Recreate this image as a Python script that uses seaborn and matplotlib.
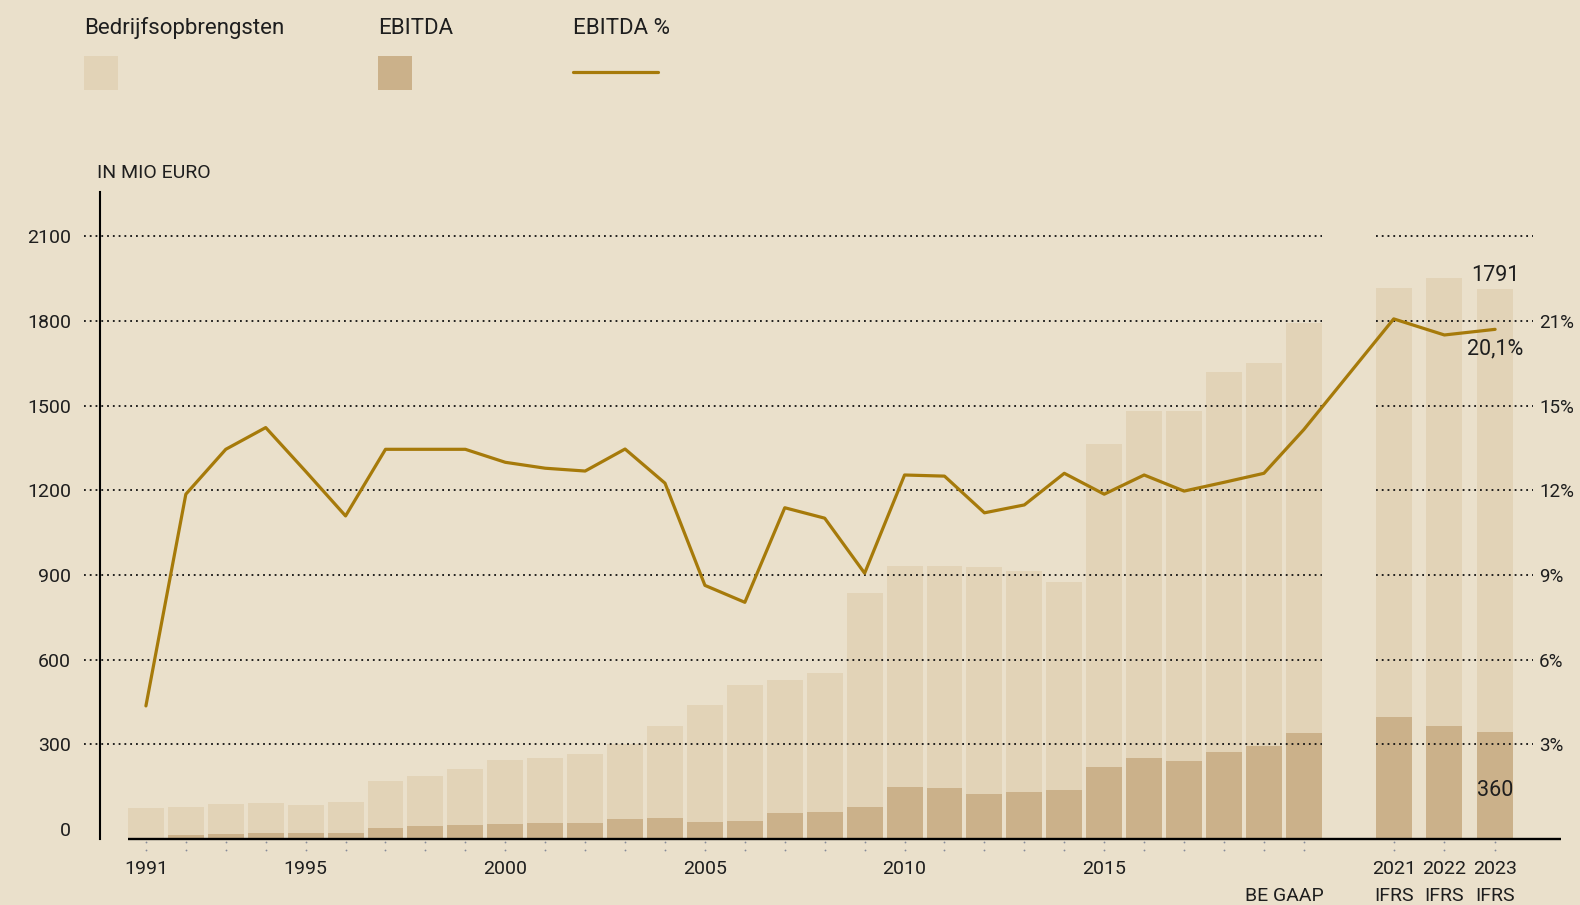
import numpy as np
import pandas as pd
import matplotlib
matplotlib.use("Agg")
import matplotlib.pyplot as plt
import matplotlib.transforms as mtransforms
from matplotlib.patches import Rectangle
from matplotlib.lines import Line2D
import seaborn as sns

# ---------------- data ----------------
years = [1991, 1992, 1993, 1994, 1995, 1996, 1997, 1998, 1999, 2000,
         2001, 2002, 2003, 2004, 2005, 2006, 2007, 2008, 2009, 2010,
         2011, 2012, 2013, 2014, 2015, 2016, 2017, 2018, 2019, 2020,
         2021, 2022, 2023]
# bar heights (mio euro, measured from the bar baseline)
revenue = [109, 112, 123, 126, 119, 130, 204, 222, 247, 279,
           286, 300, 335, 399, 474, 544, 562, 587, 870, 966,
           966, 962, 948, 909, 1398, 1515, 1515, 1653, 1685, 1828,
           1951, 1986, 1947]
ebitda = [0, 13, 17, 20, 20, 20, 38, 45, 49, 52,
          56, 56, 70, 73, 59, 63, 91, 95, 112, 183,
          180, 158, 165, 173, 254, 286, 275, 307, 328, 374,
          431, 399, 378]
ebitda_pct = [4.36, 11.86, 13.45, 14.22, 12.67, 11.09, 13.45, 13.45, 13.45, 12.99,
              12.78, 12.68, 13.46, 12.25, 8.63, 8.03, 11.38, 11.01, 9.06, 12.54,
              12.50, 11.20, 11.48, 12.60, 11.86, 12.54, 11.97, 12.28, 12.60, 14.15,
              18.07, 17.50, 17.70]
ifrs_years = [2021, 2022, 2023]
year_ticks = [1991, 1995, 2000, 2005, 2010, 2015, 2021, 2022, 2023]
left_ticks = [0, 300, 600, 900, 1200, 1500, 1800, 2100]
right_ticks = [3, 6, 9, 12, 15, 18]
right_labels = ["3%", "6%", "9%", "12%", "15%", "21%"]
label_revenue_2023 = "1791"
label_ebitda_2023 = "360"
label_pct_2023 = "20,1%"

# ---------------- style ----------------
BG = "#EAE0CB"
REV_C = "#E2D3B7"
EBI_C = "#CBB18A"
LINE_C = "#A67A0A"
TXT = "#1E1E1E"
BASE = -34.4

sns.set_theme(style="white")
plt.rcParams['font.family'] = ['Roboto', 'DejaVu Sans']
plt.rcParams['text.color'] = TXT

W, H = 1580, 905
fig = plt.figure(figsize=(W / 100, H / 100), dpi=100, facecolor=BG)
ax = fig.add_axes([100 / W, 1 - 838.7 / H, (1561 - 100) / W, (838.7 - 192) / H])
ax.set_facecolor(BG)


def position(y):
    # layout: BE GAAP years on a yearly scale, IFRS years in a separate, wider block
    return float(y) if y <= 2020 else 2022.25 + (y - 2021) * 1.27


df = pd.DataFrame({
    "year": years,
    "pos": [position(y) for y in years],
    "rev": revenue,
    "ebitda": ebitda,
    "pct": ebitda_pct,
})

sns.barplot(data=df, x="pos", y="rev", native_scale=True, width=0.9,
            color=REV_C, saturation=1, linewidth=0, bottom=BASE,
            errorbar=None, ax=ax, zorder=1)
sns.barplot(data=df, x="pos", y="ebitda", native_scale=True, width=0.9,
            color=EBI_C, saturation=1, linewidth=0, bottom=BASE,
            errorbar=None, ax=ax, zorder=2)

XMIN, XMAX = 1989.85, 2026.44
ax.set_xlim(XMIN, XMAX)
ax.set_ylim(BASE, 2256.5)

# dotted gridlines in two blocks
first_ifrs = position(ifrs_years[0])
last_ifrs = position(ifrs_years[-1])
for v in left_ticks[1:]:
    ax.hlines(v, XMIN - 0.40, 2020.45, colors="#111111", linewidth=1.3,
              linestyles=(0, (1, 2.2)), zorder=3, clip_on=False)
    ax.hlines(v, first_ifrs - 0.45, last_ifrs + 0.95, colors="#111111",
              linewidth=1.3, linestyles=(0, (1, 2.2)), zorder=3, clip_on=False)

# baseline
ax.hlines(BASE, position(1991) - 0.45, XMAX, colors="black", linewidth=1.7,
          zorder=4, clip_on=False)

# spines
for s in ["top", "right", "bottom"]:
    ax.spines[s].set_visible(False)
ax.spines["left"].set_color("black")
ax.spines["left"].set_linewidth(1.5)

# left ticks
ax.set_yticks(left_ticks)
ax.set_yticklabels([str(t) for t in left_ticks])
ax.tick_params(axis="y", length=0, pad=20.9, labelsize=14, labelcolor=TXT)

# x ticks (years)
ax.set_xticks([position(y) for y in year_ticks])
ax.set_xticklabels([str(y) for y in year_ticks])
ax.tick_params(axis="x", length=0, pad=15.0, labelsize=14, labelcolor=TXT)
ax.set_xlabel("")
ax.set_ylabel("")

# dotted tick marks under each bar
blend = mtransforms.blended_transform_factory(ax.transData, fig.transFigure)
for ypx in (841.5, 849.5):
    ax.plot(df["pos"], [1 - ypx / H] * len(df), linestyle="none", marker="o",
            markersize=1.3, markeredgewidth=0, color="#858b9a",
            transform=blend, clip_on=False, zorder=4)

# accounting standard labels
gaap_x = (position(2019) + position(2020)) / 2
ax.text(gaap_x, 1 - 896 / H, "BE GAAP", transform=blend, ha="center",
        va="center", fontsize=14, color=TXT)
for y in ifrs_years:
    ax.text(position(y), 1 - 896 / H, "IFRS", transform=blend, ha="center",
            va="center", fontsize=14, color=TXT)

# EBITDA % line on twin axis
ax2 = ax.twinx()
ax2.set_ylim(BASE / 100, 2256.5 / 100)
line_df = df.dropna(subset=["pct"])
sns.lineplot(data=line_df, x="pos", y="pct", ax=ax2, color=LINE_C,
             linewidth=2.3, sort=True, zorder=5)
ax2.set_xlim(XMIN, XMAX)
ax2.set_yticks(right_ticks)
ax2.set_yticklabels(right_labels)
ax2.tick_params(axis="y", length=0, pad=-22 * 0.72, labelsize=13.5, labelcolor=TXT)
ax2.set_ylabel("")
ax2.set_xlabel("")
for s in ax2.spines.values():
    s.set_visible(False)

# annotations for 2023
last = df.iloc[-1]
ax.annotate(label_revenue_2023, xy=(last["pos"], BASE + last["rev"]),
            xytext=(0, 13.5 * 0.72), textcoords="offset points",
            ha="center", va="center", fontsize=15.5, color=TXT, zorder=6)
ax.annotate(label_ebitda_2023, xy=(last["pos"], BASE),
            xytext=(0, 48.7 * 0.72), textcoords="offset points",
            ha="center", va="center", fontsize=15.5, color=TXT, zorder=6)
ax2.annotate(label_pct_2023, xy=(last["pos"], last["pct"]),
             xytext=(0, -20 * 0.72), textcoords="offset points",
             ha="center", va="center", fontsize=15.5, color=TXT, zorder=6)

# unit label
fig.text(96.7 / W, 1 - 178 / H, "IN MIO EURO", ha="left", va="baseline",
         fontsize=14, color=TXT)

# legend
fig.text(84 / W, 1 - 34 / H, "Bedrijfsopbrengsten", ha="left", va="baseline",
         fontsize=16, color=TXT)
fig.text(378 / W, 1 - 34 / H, "EBITDA", ha="left", va="baseline",
         fontsize=16, color=TXT)
fig.text(573 / W, 1 - 34 / H, "EBITDA %", ha="left", va="baseline",
         fontsize=16, color=TXT)
fig.add_artist(Rectangle((84 / W, 1 - 90 / H), 34 / W, 34 / H,
                         transform=fig.transFigure, facecolor=REV_C,
                         edgecolor="none"))
fig.add_artist(Rectangle((378 / W, 1 - 90 / H), 34 / W, 34 / H,
                         transform=fig.transFigure, facecolor=EBI_C,
                         edgecolor="none"))
fig.add_artist(Line2D([573 / W, 658 / W], [1 - 72.3 / H] * 2,
                      transform=fig.transFigure, color=LINE_C, linewidth=2.3))

fig.savefig("out.png", dpi=100, facecolor=BG)
